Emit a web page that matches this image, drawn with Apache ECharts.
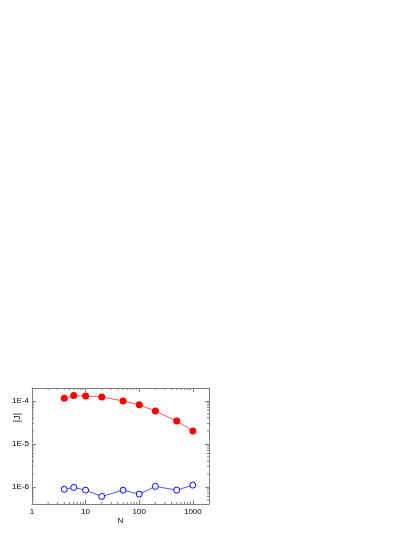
<!DOCTYPE html>
<html>
<head>
<meta charset="utf-8">
<script src="https://cdn.jsdelivr.net/npm/echarts@6/dist/echarts.min.js"></script>
<style>
  html, body { margin: 0; padding: 0; background: #fff; }
  #box { width: 415px; height: 537px; }
</style>
</head>
<body>
<div id="box"></div>
<script>
// data
const nValues = [4, 6, 10, 20, 50, 100, 200, 500, 1000];
const jRed = [1.16e-4, 1.33e-4, 1.31e-4, 1.24e-4, 1.0e-4, 8.1e-5, 5.8e-5, 3.4e-5, 2.0e-5];
const jBlue = [8.8e-7, 9.7e-7, 8.4e-7, 6.0e-7, 8.4e-7, 6.8e-7, 1.03e-6, 8.4e-7, 1.1e-6];
const xTickLabels = ['1', '10', '100', '1000'];
const yTickLabels = ['1E-6', '1E-5', '1E-4'];

const xMin = 1, xMax = 2000;
const yMin = 4e-7, yMax = 2e-4;
const frame = '#808080';

// log spaced minor ticks (2..9 of every decade)
function minors(lo, hi) {
  const out = [];
  for (let e = Math.floor(Math.log10(lo)); e <= Math.ceil(Math.log10(hi)); e++) {
    for (let k = 2; k <= 9; k++) {
      const v = k * Math.pow(10, e);
      if (v > lo && v < hi) out.push(v);
    }
  }
  return out;
}
const xMinor = minors(xMin, xMax);
const yMinor = minors(yMin, yMax);

function isDecade(v) {
  const l = Math.log10(v);
  return Math.abs(l - Math.round(l)) < 1e-6;
}
function xLabel(v) {
  if (!isDecade(v)) return '';
  const s = String(Math.round(v));
  return xTickLabels.indexOf(s) >= 0 ? s : '';
}
function yLabel(v) {
  if (!isDecade(v)) return '';
  const s = '1E' + Math.round(Math.log10(v));
  return yTickLabels.indexOf(s) >= 0 ? s : '';
}

const lbl = { fontFamily: 'Liberation Sans', fontSize: 8, color: '#000' };
const axisBase = {
  type: 'log', logBase: 10,
  axisLine: { show: true, lineStyle: { color: frame, width: 1 } },
  axisTick: { show: true, inside: true, length: 4, lineStyle: { color: frame } },
  splitLine: { show: false }
};

var myChart = echarts.init(document.getElementById('box'), null, { renderer: 'canvas' });
myChart.setOption({
  animation: false,
  grid: { left: 32, right: 206, top: 388, bottom: 33 },
  xAxis: [
    Object.assign({}, axisBase, {
      position: 'bottom', min: xMin, max: xMax,
      name: 'N', nameLocation: 'middle', nameGap: 13,
      nameTextStyle: { fontFamily: 'Liberation Sans', fontSize: 8, color: '#000' },
      axisLabel: Object.assign({ margin: 4, formatter: xLabel }, lbl)
    }),
    Object.assign({}, axisBase, {
      position: 'top', min: xMin, max: xMax,
      axisLabel: { show: false }
    })
  ],
  yAxis: [
    Object.assign({}, axisBase, {
      position: 'left', min: yMin, max: yMax,
      axisLabel: Object.assign({ margin: 3, formatter: yLabel }, lbl)
    }),
    Object.assign({}, axisBase, {
      position: 'right', min: yMin, max: yMax,
      axisLabel: { show: false }
    })
  ],
  graphic: [{
    type: 'text', left: 13, top: 413, rotation: Math.PI / 2,
    style: { text: '|J|', font: '9px "Liberation Sans"', fill: '#000' }
  }],
  series: [
    {
      type: 'line', data: nValues.map((n, i) => [n, jRed[i]]),
      symbol: 'circle', symbolSize: 7,
      itemStyle: { color: '#ff0000' },
      lineStyle: { color: '#ff5555', width: 1 }
    },
    {
      type: 'line', data: nValues.map((n, i) => [n, jBlue[i]]),
      symbol: 'circle', symbolSize: 6,
      itemStyle: { color: '#ffffff', borderColor: '#0000ff', borderWidth: 1 },
      lineStyle: { color: '#5555ff', width: 1 }
    },
    {
      // minor ticks on bottom and top
      type: 'custom', silent: true, clip: false,
      data: xMinor.map(v => [v, yMin]),
      renderItem: function (params, api) {
        const b = api.coord([api.value(0), yMin]);
        const t = api.coord([api.value(0), yMax]);
        const st = { stroke: frame, lineWidth: 1 };
        return { type: 'group', children: [
          { type: 'line', shape: { x1: b[0], y1: b[1], x2: b[0], y2: b[1] - 2 }, style: st },
          { type: 'line', shape: { x1: t[0], y1: t[1], x2: t[0], y2: t[1] + 2 }, style: st }
        ] };
      }
    },
    {
      // minor ticks on left and right
      type: 'custom', silent: true, clip: false,
      data: yMinor.map(v => [xMin, v]),
      renderItem: function (params, api) {
        const l = api.coord([xMin, api.value(1)]);
        const r = api.coord([xMax, api.value(1)]);
        const st = { stroke: frame, lineWidth: 1 };
        return { type: 'group', children: [
          { type: 'line', shape: { x1: l[0], y1: l[1], x2: l[0] + 2, y2: l[1] }, style: st },
          { type: 'line', shape: { x1: r[0], y1: r[1], x2: r[0] - 2, y2: r[1] }, style: st }
        ] };
      }
    }
  ]
});
</script>
</body>
</html>
